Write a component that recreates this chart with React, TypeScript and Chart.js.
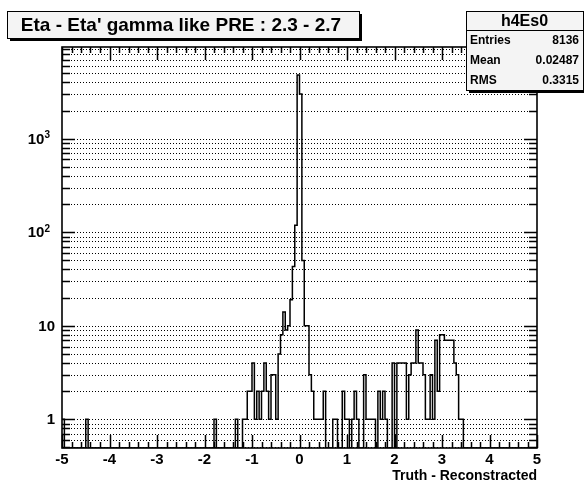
import React, { useEffect, useRef } from 'react';
import { Chart, registerables } from 'chart.js';

Chart.register(...registerables);

const TITLE = "Eta - Eta' gamma like PRE : 2.3 - 2.7";
const X_TITLE = 'Truth - Reconstracted';
const STATS_NAME = 'h4Es0';
const STATS_LABELS = ['Entries', 'Mean', 'RMS'];
const STATS_VALUES = ['8136', '0.02487', '0.3315'];

const X_MIN = -5;
const X_MAX = 5;
const BIN_WIDTH = 0.05;
const Y_MIN = 0.4935;
const Y_MAX = 9570;

const X_TICK_VALUES = [-5, -4, -3, -2, -1, 0, 1, 2, 3, 4, 5];
const X_TICK_LABELS = ['-5', '-4', '-3', '-2', '-1', '0', '1', '2', '3', '4', '5'];
const Y_TICK_VALUES = [1, 10, 100, 1000];
const Y_TICK_BASES = ['1', '10', '10', '10'];
const Y_TICK_EXPONENTS = ['', '', '2', '3'];

// 200 bins of width 0.05 from -5 to 5
const COUNTS = [
  1, 0, 0, 0, 0, 0, 0, 0, 0, 0, 1, 0, 0, 0, 0, 0, 0, 0, 0, 0,
  0, 0, 0, 0, 0, 0, 0, 0, 0, 0, 0, 0, 0, 0, 0, 0, 0, 0, 0, 0,
  0, 0, 0, 0, 0, 0, 0, 0, 0, 0, 0, 0, 0, 0, 0, 0, 0, 0, 0, 0,
  0, 0, 0, 0, 1, 0, 0, 0, 0, 0, 0, 0, 0, 1, 0, 0, 1, 1, 2, 2,
  4, 1, 2, 1, 2, 4, 2, 1, 3, 3, 1, 5, 8, 14, 9, 10, 19, 43, 119, 4800,
  3000, 50, 10, 10, 3, 2, 1, 1, 1, 1, 2, 0, 0, 0, 1, 1, 0, 0, 2, 1,
  1, 0, 1, 2, 1, 0, 0, 3, 1, 1, 1, 1, 0, 2, 1, 2, 1, 0, 0, 4,
  0, 4, 4, 4, 4, 1, 3, 4, 4, 9, 4, 4, 3, 1, 1, 3, 1, 7, 2, 8,
  8, 7, 7, 7, 7, 4, 3, 1, 1, 0, 0, 0, 0, 0, 0, 0, 0, 0, 0, 0,
  0, 0, 0, 0, 0, 0, 0, 0, 0, 0, 0, 0, 0, 0, 0, 0, 0, 0, 0, 0,
];

const FONT = '"Liberation Sans", Arial, Helvetica, sans-serif';

const rootStyle = {
  id: 'rootStyle',
  beforeDatasetsDraw(chart: any) {
    const { ctx, chartArea: a, scales } = chart;
    const ys = scales.y;
    ctx.save();
    ctx.strokeStyle = '#000';
    ctx.lineWidth = 1;
    ctx.setLineDash([1, 2]);
    for (let d = -1; d <= 4; d++) {
      for (let m = 1; m <= 9; m++) {
        const v = m * Math.pow(10, d);
        if (v < Y_MIN || v > Y_MAX) continue;
        const py = Math.round(ys.getPixelForValue(v)) + 0.5;
        ctx.beginPath();
        ctx.moveTo(a.left, py);
        ctx.lineTo(a.right, py);
        ctx.stroke();
      }
    }
    ctx.restore();
  },
  afterDatasetsDraw(chart: any) {
    const { ctx, chartArea: a, scales } = chart;
    const xs = scales.x;
    const ys = scales.y;
    ctx.save();
    ctx.setLineDash([]);
    ctx.strokeStyle = '#000';
    ctx.fillStyle = '#000';

    // y ticks (left and right, inward)
    ctx.lineWidth = 1.5;
    for (let d = -1; d <= 4; d++) {
      for (let m = 1; m <= 9; m++) {
        const v = m * Math.pow(10, d);
        if (v < Y_MIN || v > Y_MAX) continue;
        const py = Math.round(ys.getPixelForValue(v)) + 0.5;
        const len = m === 1 ? 13 : 8;
        ctx.beginPath();
        ctx.moveTo(a.left, py);
        ctx.lineTo(a.left + len, py);
        ctx.moveTo(a.right, py);
        ctx.lineTo(a.right - len, py);
        ctx.stroke();
      }
    }
    // x ticks (bottom and top, inward), every 0.2
    for (let i = 0; i <= 50; i++) {
      const v = X_MIN + i * 0.2;
      const px = Math.round(xs.getPixelForValue(v)) + 0.5;
      const len = i % 5 === 0 ? 13 : 6;
      ctx.beginPath();
      ctx.moveTo(px, a.bottom);
      ctx.lineTo(px, a.bottom - len);
      ctx.moveTo(px, a.top);
      ctx.lineTo(px, a.top + len);
      ctx.stroke();
    }

    // frame
    ctx.lineWidth = 1.6;
    ctx.strokeRect(a.left, a.top, a.right - a.left, a.bottom - a.top);

    // x labels
    ctx.font = `bold 15px ${FONT}`;
    ctx.textAlign = 'center';
    ctx.textBaseline = 'middle';
    X_TICK_VALUES.forEach((v, i) => {
      ctx.fillText(X_TICK_LABELS[i], xs.getPixelForValue(v), 460);
    });

    // y labels
    Y_TICK_VALUES.forEach((v, i) => {
      const py = ys.getPixelForValue(v);
      const exp = Y_TICK_EXPONENTS[i];
      if (exp) {
        ctx.font = `bold 10px ${FONT}`;
        const ew = ctx.measureText(exp).width;
        const right = a.left - 12;
        ctx.textAlign = 'left';
        ctx.textBaseline = 'middle';
        ctx.fillText(exp, right - ew, py - 3);
        ctx.font = `bold 15px ${FONT}`;
        ctx.textAlign = 'right';
        ctx.fillText(Y_TICK_BASES[i], right - ew, py + 1);
      } else {
        ctx.font = `bold 15px ${FONT}`;
        ctx.textAlign = 'right';
        ctx.textBaseline = 'middle';
        ctx.fillText(Y_TICK_BASES[i], a.left - 7, py + 1);
      }
    });

    // x axis title
    ctx.font = `bold 14px ${FONT}`;
    ctx.textAlign = 'right';
    ctx.textBaseline = 'middle';
    ctx.fillText(X_TITLE, a.right, 476);

    // title box
    const tb = { l: 7, t: 11, r: 359, b: 38 };
    ctx.fillStyle = '#000';
    ctx.fillRect(tb.l + 3, tb.t + 3, tb.r - tb.l, tb.b - tb.t);
    ctx.fillStyle = '#f4f4f4';
    ctx.fillRect(tb.l, tb.t, tb.r - tb.l, tb.b - tb.t);
    ctx.lineWidth = 1;
    ctx.strokeRect(tb.l + 0.5, tb.t + 0.5, tb.r - tb.l, tb.b - tb.t);
    ctx.fillStyle = '#000';
    ctx.font = `bold 19px ${FONT}`;
    ctx.textAlign = 'center';
    ctx.textBaseline = 'middle';
    ctx.fillText(TITLE, (tb.l + tb.r) / 2 - 2, (tb.t + tb.b) / 2 + 1);

    // stats box
    const sb = { l: 466, t: 11, r: 583, b: 90, h: 30 };
    ctx.fillStyle = '#000';
    ctx.fillRect(sb.l + 3, sb.t + 3, sb.r - sb.l, sb.b - sb.t);
    ctx.fillStyle = '#f4f4f4';
    ctx.fillRect(sb.l, sb.t, sb.r - sb.l, sb.b - sb.t);
    ctx.strokeRect(sb.l + 0.5, sb.t + 0.5, sb.r - sb.l, sb.b - sb.t);
    ctx.beginPath();
    ctx.moveTo(sb.l, sb.h + 0.5);
    ctx.lineTo(sb.r, sb.h + 0.5);
    ctx.stroke();
    ctx.fillStyle = '#000';
    ctx.font = `bold 16px ${FONT}`;
    ctx.textAlign = 'center';
    ctx.fillText(STATS_NAME, (sb.l + sb.r) / 2, (sb.t + sb.h) / 2 + 1);
    ctx.font = `bold 12px ${FONT}`;
    const rowH = (sb.b - sb.h) / STATS_LABELS.length;
    STATS_LABELS.forEach((lab, i) => {
      const cy = sb.h + rowH * (i + 0.5) + 1;
      ctx.textAlign = 'left';
      ctx.fillText(lab, sb.l + 4, cy);
      ctx.textAlign = 'right';
      ctx.fillText(STATS_VALUES[i], sb.r - 4, cy);
    });

    ctx.restore();
  },
};

export default function App() {
  const ref = useRef<HTMLCanvasElement>(null);
  useEffect(() => {
    const canvas = ref.current;
    if (!canvas) return;
    const points = COUNTS.map((c, k) => ({ x: X_MIN + k * BIN_WIDTH, y: c > 0 ? c : Y_MIN }));
    points.push({ x: X_MAX, y: COUNTS[COUNTS.length - 1] > 0 ? COUNTS[COUNTS.length - 1] : Y_MIN });
    const chart = new Chart(canvas, {
      type: 'line',
      data: {
        datasets: [
          {
            data: points,
            borderColor: '#000',
            borderWidth: 1.5,
            pointRadius: 0,
            stepped: 'before',
            fill: false,
            tension: 0,
          },
        ],
      },
      options: {
        responsive: false,
        animation: false,
        layout: { padding: { left: 62, right: 47, top: 47, bottom: 38 } },
        plugins: { legend: { display: false }, tooltip: { enabled: false }, title: { display: false } },
        scales: {
          x: { type: 'linear', min: X_MIN, max: X_MAX, display: false },
          y: { type: 'logarithmic', min: Y_MIN, max: Y_MAX, display: false },
        },
      },
      plugins: [rootStyle],
    });
    return () => chart.destroy();
  }, []);
  return (
    <div style={{ position: 'absolute', left: 0, top: 0, width: 584, height: 486, background: '#fff' }}>
      <canvas ref={ref} width={584} height={486} style={{ display: 'block', width: 584, height: 486 }} />
    </div>
  );
}
